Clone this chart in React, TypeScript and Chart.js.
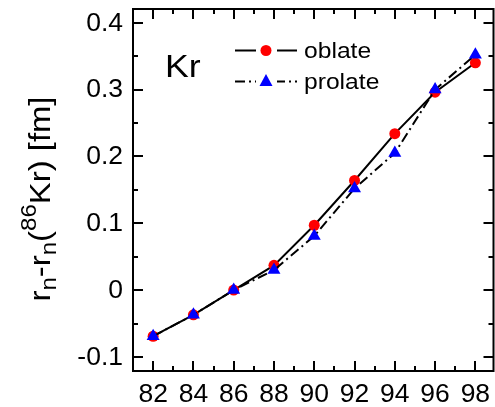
import React, { useEffect, useRef } from "react";
import { Chart, registerables } from "chart.js";

Chart.register(...registerables);

const massNumbers = [82, 84, 86, 88, 90, 92, 94, 96, 98];
const oblateValues = [-0.069, -0.037, 0.0, 0.037, 0.097, 0.164, 0.234, 0.296, 0.34];
const prolateValues = [-0.069, -0.037, 0.0, 0.03, 0.081, 0.152, 0.205, 0.3, 0.352];
const xMajorTicks = [82, 84, 86, 88, 90, 92, 94, 96, 98];
const yMajorTicks = [-0.1, 0, 0.1, 0.2, 0.3, 0.4];
const seriesNames = ["oblate", "prolate"];
const elementLabel = "Kr";

const FONT = "'Liberation Sans', Arial, sans-serif";
const PROLATE_DASH = [10, 4, 2, 4];

function drawScaledText(ctx: any, text: string, x: number, y: number, font: string, sx: number) {
  ctx.save();
  ctx.translate(x, y);
  ctx.scale(sx, 1);
  ctx.font = font;
  ctx.fillText(text, 0, 0);
  ctx.restore();
}

const framePlugin = {
  id: "frame",
  afterDraw(chart: any) {
    const ctx = chart.ctx;
    const { left, right, top, bottom } = chart.chartArea;
    const xs = chart.scales.x;
    const ys = chart.scales.y;
    ctx.save();
    ctx.strokeStyle = "#000";
    ctx.lineWidth = 2;
    ctx.strokeRect(left, top, right - left, bottom - top);
    const major = 10;
    const minor = 5;
    ctx.beginPath();
    for (let v = Math.ceil(xs.min); v <= xs.max; v++) {
      const px = Math.round(xs.getPixelForValue(v));
      const len = v % 2 === 0 ? major : minor;
      ctx.moveTo(px, bottom);
      ctx.lineTo(px, bottom - len);
      ctx.moveTo(px, top);
      ctx.lineTo(px, top + len);
    }
    for (let i = -2; i <= 8; i++) {
      const v = i * 0.05;
      if (v < ys.min - 1e-9 || v > ys.max + 1e-9) continue;
      const py = Math.round(ys.getPixelForValue(v));
      const len = i % 2 === 0 ? major : minor;
      ctx.moveTo(left, py);
      ctx.lineTo(left + len, py);
      ctx.moveTo(right, py);
      ctx.lineTo(right - len, py);
    }
    ctx.stroke();

    // Tick labels
    ctx.fillStyle = "#000";
    ctx.textAlign = "right";
    ctx.textBaseline = "middle";
    yMajorTicks.forEach((v) => {
      const label = Math.abs(v) < 1e-9 ? "0" : v.toFixed(1);
      const py = ys.getPixelForValue(v) + 1;
      ctx.save();
      ctx.translate(left - 10, py);
      ctx.scale(1.06, 1);
      ctx.font = `25px ${FONT}`;
      ctx.fillText(label, 0, 0);
      ctx.restore();
    });
    ctx.textAlign = "center";
    ctx.textBaseline = "alphabetic";
    xMajorTicks.forEach((v) => {
      ctx.save();
      ctx.translate(xs.getPixelForValue(v), bottom + 31);
      ctx.scale(1.06, 1);
      ctx.font = `25px ${FONT}`;
      ctx.fillText(String(v), 0, 0);
      ctx.restore();
    });

    // Element label
    ctx.textAlign = "left";
    ctx.textBaseline = "alphabetic";
    drawScaledText(ctx, elementLabel, left + 32, top + 68, `31px ${FONT}`, 1.15);

    // Legend
    const rows = [
      { y: top + 41.5, color: "red", dash: [] as number[], shape: "circle" },
      { y: top + 72.5, color: "blue", dash: PROLATE_DASH, shape: "triangle" },
    ];
    const lx = left + 102;
    rows.forEach((r, i) => {
      ctx.save();
      ctx.strokeStyle = "#000";
      ctx.lineWidth = 2;
      ctx.setLineDash(r.dash);
      ctx.beginPath();
      ctx.moveTo(lx, r.y);
      ctx.lineTo(lx + 62, r.y);
      ctx.stroke();
      ctx.restore();
      ctx.fillStyle = "#fff";
      ctx.fillRect(lx + 21, r.y - 9, 21, 18);
      ctx.fillStyle = r.color;
      ctx.beginPath();
      const cx = lx + 31;
      if (r.shape === "circle") {
        ctx.arc(cx, r.y, 5.5, 0, Math.PI * 2);
      } else {
        ctx.moveTo(cx, r.y - 7.5);
        ctx.lineTo(cx + 6.5, r.y + 4.5);
        ctx.lineTo(cx - 6.5, r.y + 4.5);
        ctx.closePath();
      }
      ctx.fill();
      ctx.fillStyle = "#000";
      ctx.textBaseline = "alphabetic";
      drawScaledText(ctx, seriesNames[i], lx + 69, r.y + 7.5, `22px ${FONT}`, 1.12);
    });

    // Y axis title with sub/superscripts
    const parts = [
      { t: "r", s: 0 },
      { t: "n", s: 1 },
      { t: "-r", s: 0 },
      { t: "n", s: 1 },
      { t: "(", s: 0 },
      { t: "86", s: -1 },
      { t: "Kr) [fm]", s: 0 },
    ];
    const mainSize = 30;
    const smallSize = 22;
    let total = 0;
    const widths = parts.map((p) => {
      ctx.font = `${p.s === 0 ? mainSize : smallSize}px ${FONT}`;
      const w = ctx.measureText(p.t).width;
      total += w;
      return w;
    });
    const stretch = 205 / total;
    ctx.save();
    ctx.translate(50, 199);
    ctx.rotate(-Math.PI / 2);
    ctx.scale(stretch, 1);
    ctx.textBaseline = "alphabetic";
    ctx.textAlign = "left";
    let x = -total / 2;
    parts.forEach((p, i) => {
      ctx.font = `${p.s === 0 ? mainSize : smallSize}px ${FONT}`;
      const dy = p.s === 1 ? 6 : p.s === -1 ? -14 : 0;
      ctx.fillText(p.t, x, dy);
      x += widths[i];
    });
    ctx.restore();
    ctx.restore();
  },
};

export default function App() {
  const ref = useRef<HTMLCanvasElement | null>(null);
  useEffect(() => {
    if (!ref.current) return;
    const chart = new Chart(ref.current, {
      type: "line",
      data: {
        datasets: [
          {
            label: seriesNames[1],
            data: massNumbers.map((m, i) => ({ x: m, y: prolateValues[i] })),
            borderColor: "#000",
            borderWidth: 2,
            borderDash: PROLATE_DASH,
            pointStyle: "triangle",
            pointRadius: 7.5,
            pointBackgroundColor: "blue",
            pointBorderColor: "blue",
            pointBorderWidth: 0,
            order: 0,
          },
          {
            label: seriesNames[0],
            data: massNumbers.map((m, i) => ({ x: m, y: oblateValues[i] })),
            borderColor: "#000",
            borderWidth: 2,
            pointStyle: "circle",
            pointRadius: 5.5,
            pointBackgroundColor: "red",
            pointBorderColor: "red",
            pointBorderWidth: 0,
            order: 1,
          },
        ],
      },
      options: {
        animation: false,
        responsive: false,
        maintainAspectRatio: false,
        layout: { autoPadding: false, padding: { left: 133, right: 1.5, top: 9, bottom: 36 } },
        plugins: { legend: { display: false }, tooltip: { enabled: false } },
        scales: {
          x: { type: "linear", min: 81, max: 98.9, display: false },
          y: { type: "linear", min: -0.121, max: 0.4205, display: false },
        },
      },
      plugins: [framePlugin],
    });
    return () => chart.destroy();
  }, []);
  return (
    <div style={{ position: "fixed", left: 0, top: 0, width: 495, height: 407, background: "#fff" }}>
      <canvas ref={ref} width={495} height={407} style={{ display: "block" }} />
    </div>
  );
}
